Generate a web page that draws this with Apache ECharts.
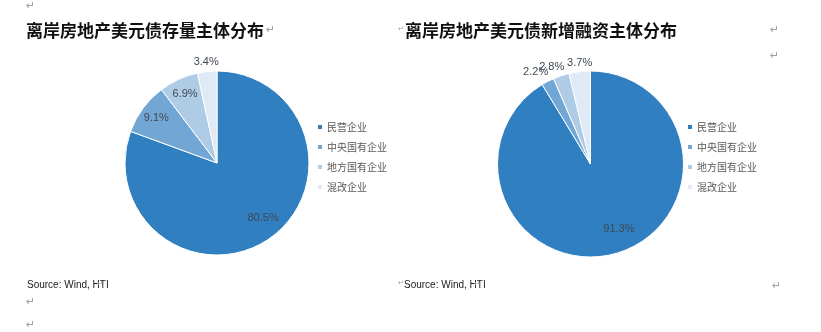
<!DOCTYPE html>
<html>
<head>
<meta charset="utf-8">
<script src="https://cdn.jsdelivr.net/npm/echarts@6/dist/echarts.min.js"></script>
<style>
  html, body { margin: 0; padding: 0; background: #ffffff; }
  #chart { width: 821px; height: 332px; }
</style>
</head>
<body>
<div id="chart"></div>
<script>
// Issuer categories shared by both pies
const issuerTypes = ['民营企业', '中央国有企业', '地方国有企业', '混改企业'];
// Outstanding offshore USD bonds of property developers, share by issuer type (%)
const stockShares = [80.5, 9.1, 6.9, 3.4];
// New USD bond issuance, share by issuer type (%)
const newIssueShares = [91.3, 2.2, 2.8, 3.7];

const leftTitle = '离岸房地产美元债存量主体分布';
const rightTitle = '离岸房地产美元债新增融资主体分布';
const sourceNote = 'Source: Wind, HTI';

// Styling
const sliceColors = ['#2f7fc1', '#72a7d5', '#afcce6', '#dfeaf6'];
const pieGeom = [
  { center: [217, 163], radius: 92 },
  { center: [590.5, 164], radius: 93 }
];
// label placement: fraction of radius and small angular nudge (degrees)
const labelPlacement = [
  { ratio: [0.78, 0.82, 0.83, 1.10], nudge: [-5, 0, 0, 0] },
  { ratio: [0.76, 1.15, 1.12, 1.09], nudge: [-8, -3.5, -3.5, 0.5] }
];

function pieData(values) {
  return issuerTypes.map((name, i) => ({
    name: name,
    value: values[i],
    itemStyle: { color: sliceColors[i] }
  }));
}

function labelPos(values, seriesIdx, idx) {
  const total = values.reduce((a, b) => a + b, 0);
  let before = 0;
  for (let i = 0; i < idx; i++) before += values[i];
  const mid = (before + values[idx] / 2) / total * 360;
  const ang = (mid + labelPlacement[seriesIdx].nudge[idx]) * Math.PI / 180;
  const g = pieGeom[seriesIdx];
  const rr = g.radius * labelPlacement[seriesIdx].ratio[idx];
  return {
    x: g.center[0] + Math.sin(ang) * rr,
    y: g.center[1] - Math.cos(ang) * rr
  };
}

const allValues = [stockShares, newIssueShares];

function pieSeries(values, seriesIdx) {
  const g = pieGeom[seriesIdx];
  return {
    type: 'pie',
    center: g.center,
    radius: g.radius,
    startAngle: 90,
    clockwise: true,
    animation: false,
    emphasis: { disabled: true },
    itemStyle: { borderColor: '#ffffff', borderWidth: 1 },
    label: {
      show: true,
      position: 'inside',
      formatter: '{c}%',
      fontFamily: 'Liberation Sans',
      fontSize: 11,
      color: '#404854'
    },
    labelLine: { show: false },
    labelLayout: function (p) {
      const pos = labelPos(allValues[seriesIdx], seriesIdx, p.dataIndex);
      return { x: pos.x, y: pos.y, align: 'center', verticalAlign: 'middle' };
    },
    data: pieData(values)
  };
}

function legend(left) {
  return {
    orient: 'vertical',
    left: left,
    top: 120,
    padding: 0,
    icon: 'rect',
    itemWidth: 6,
    itemHeight: 6,
    itemGap: 6,
    selectedMode: false,
    data: issuerTypes,
    textStyle: {
      fontFamily: 'Noto Sans CJK SC',
      fontSize: 10,
      lineHeight: 14,
      color: '#595959',
      padding: [0, 0, 0, -1]
    }
  };
}

const markStyle = { fill: '#a0a0a0', fontFamily: 'DejaVu Sans', fontSize: 11 };
function mark(x, y, size) {
  return {
    type: 'text', left: x, top: y,
    style: Object.assign({ text: '↵' }, markStyle, size ? { fontSize: size } : {})
  };
}

const chart = echarts.init(document.getElementById('chart'), null, { renderer: 'canvas' });
chart.setOption({
  backgroundColor: '#ffffff',
  animation: false,
  title: [
    {
      text: leftTitle, left: 26, top: 22, padding: 0,
      textStyle: { fontFamily: 'Noto Sans CJK SC', fontWeight: 'bold', fontSize: 17, color: '#111111' }
    },
    {
      text: rightTitle, left: 405, top: 22, padding: 0,
      textStyle: { fontFamily: 'Noto Sans CJK SC', fontWeight: 'bold', fontSize: 17, color: '#111111' }
    }
  ],
  legend: [legend(316), legend(686)],
  series: [pieSeries(stockShares, 0), pieSeries(newIssueShares, 1)],
  graphic: [
    {
      type: 'text', left: 27, top: 280,
      style: { text: sourceNote, fontFamily: 'Liberation Sans', fontSize: 10, fill: '#1a1a1a' }
    },
    {
      type: 'text', left: 404, top: 280,
      style: { text: sourceNote, fontFamily: 'Liberation Sans', fontSize: 10, fill: '#1a1a1a' }
    },
    mark(26, 1),
    mark(266, 25),
    mark(770, 25),
    mark(770, 51),
    mark(772, 281),
    mark(26, 297),
    mark(26, 320),
    mark(97, 280, 8),
    mark(474, 280, 8),
    mark(398, 26, 7),
    mark(398, 280, 7)
  ]
});
</script>
</body>
</html>
